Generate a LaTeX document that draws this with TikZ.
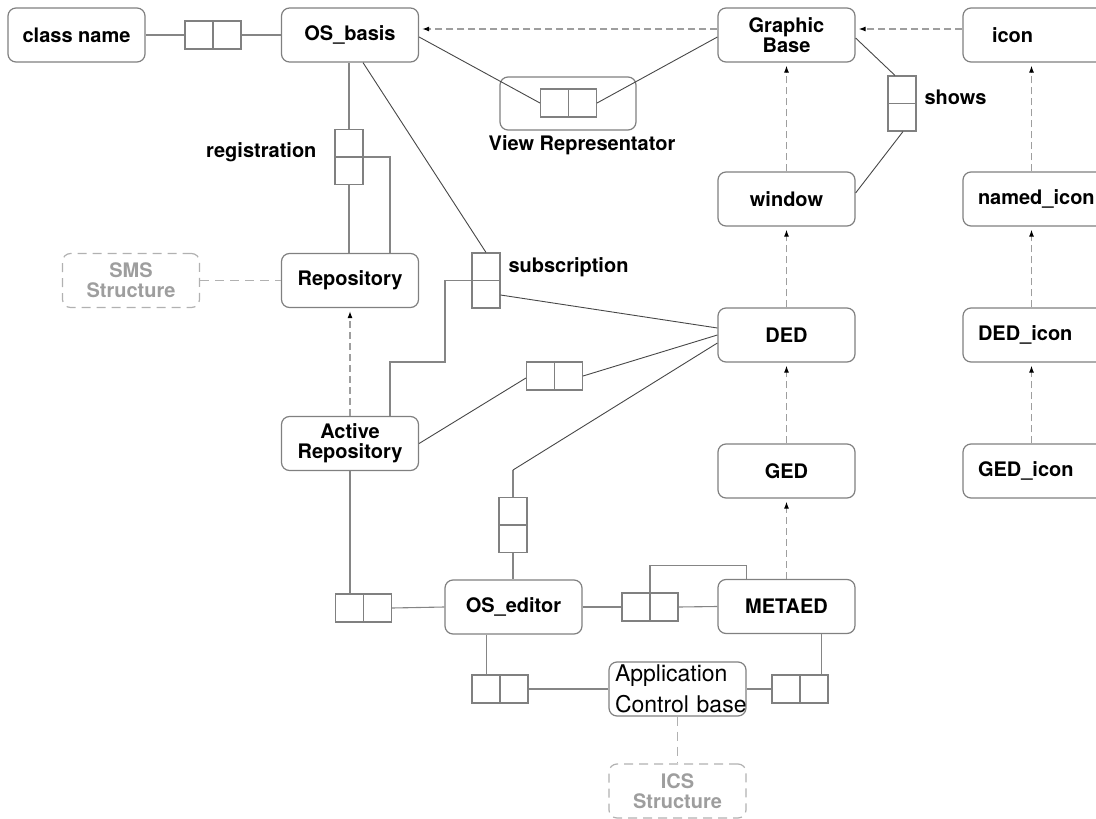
\documentclass[tikz,border=0pt]{standalone}
\usepackage{fontspec}
\setmainfont{TeX Gyre Heros}
\usetikzlibrary{arrows.meta,calc}
\definecolor{boxgray}{gray}{0.5}
\definecolor{linegray}{gray}{0.52}
\definecolor{diaggray}{gray}{0.28}
\definecolor{dashgray}{gray}{0.62}
\definecolor{ghost}{gray}{0.62}
\begin{document}
\begin{tikzpicture}[x=1pt,y=-1pt,
  lbl/.style={font=\bfseries\fontsize{20}{20}\selectfont},
  box/.style={draw=boxgray, line width=1.2pt, rounded corners=8pt,
    minimum width=137pt, minimum height=54pt, inner sep=0pt, align=center,
    font=\bfseries\fontsize{20}{20}\selectfont},
  iconbox/.style={box, align=left, text width=117pt, inner xsep=15pt},
  ghostbox/.style={box, draw=ghost!80, dash pattern=on 9pt off 6pt, text=ghost},
  relh/.style={draw=boxgray, line width=1.1pt, minimum width=56pt, minimum height=28pt,
    inner sep=0pt, path picture={\draw[boxgray, line width=1.1pt]
      (path picture bounding box.north) -- (path picture bounding box.south);}},
  relv/.style={draw=boxgray, line width=1.1pt, minimum width=28pt, minimum height=55pt,
    inner sep=0pt, path picture={\draw[boxgray, line width=1.1pt]
      (path picture bounding box.west) -- (path picture bounding box.east);}},
  conn/.style={draw=linegray, line width=1.1pt},
  diag/.style={draw=diaggray, line width=0.9pt},
  darr/.style={draw=dashgray, line width=1.2pt, dash pattern=on 7pt off 4pt,
    -{Latex[length=7pt,width=5pt,color=black]}, shorten >=3pt},
  dline/.style={draw=dashgray!80, line width=1.2pt, dash pattern=on 9pt off 6pt}]
\useasboundingbox (0,0) rectangle (1096,819);
\clip (0,0) rectangle (1096,819);

% classes
\node[box] (classname) at (76.5,35) {class name};
\node[box] (OSbasis) at (350,35) {OS\_basis};
\node[box] (GraphicBase) at (786.5,35) {Graphic\\Base};
\node[iconbox] (icon) at (1036.5,35) {\hspace*{14pt}icon};
\node[box] (window) at (786.5,199) {window};
\node[iconbox] (namedicon) at (1036.5,199) {named\_icon};
\node[box] (Repository) at (350,280.5) {Repository};
\node[ghostbox] (SMS) at (131,280.5) {SMS\\Structure};
\node[box] (DED) at (786.5,335) {DED};
\node[iconbox] (DEDicon) at (1036.5,335) {DED\_icon};
\node[box] (ActiveRep) at (350,443.5) {Active\\Repository};
\node[box] (GED) at (786.5,471) {GED};
\node[iconbox] (GEDicon) at (1036.5,471) {GED\_icon};
\node[box] (OSeditor) at (513.5,607) {OS\_editor};
\node[box] (METAED) at (786.5,606.5) {METAED};
\node[box, font=\fontsize{23}{31}\selectfont, align=left, text width=125pt,
  inner xsep=6pt] (AppCtrl) at (677.5,689) {\mbox{Application}\\\mbox{Control base}};
\node[ghostbox] (ICS) at (677.5,791) {ICS\\Structure};

% View Representator frame
\node[draw=boxgray, line width=1.2pt, rounded corners=8pt, minimum width=136pt,
  minimum height=53pt] (VRframe) at (568,103.5) {};
\node[lbl] (VRlabel) at (582,145) {View Representator};

% relationship boxes
\node[relh] (A) at (213,35) {};
\node[relh] (VRin) at (568.5,103) {};
\node[relv] (reg) at (349,157) {};
\node[relv] (shows) at (902,103.5) {};
\node[relv] (sub) at (486,280.5) {};
\node[relh] (B) at (554.5,376) {};
\node[relv] (C) at (513,525) {};
\node[relh] (D) at (363.5,608) {};
\node[relh] (E) at (650,607) {};
\node[relh] (F) at (500,689) {};
\node[relh] (G) at (800,689) {};

% relationship labels
\node[lbl, anchor=east] (reglabel) at (320,152) {registration};
\node[lbl, anchor=west] (sublabel) at (505,267) {subscription};
\node[lbl, anchor=west] (showslabel) at (921,97) {shows};

% bend points
\coordinate (subbend) at (445,362);
\coordinate (cbend) at (513,470);

% straight connectors
\draw[conn] (classname.east) -- (A.west);
\draw[conn] (A.east) -- (OSbasis.west);
\draw[conn] (reg.north |- OSbasis.south) -- (reg.north);
\draw[conn] (reg.south) -- (reg.south |- Repository.north);
\draw[conn] (reg.east) -| ([xshift=40pt]Repository.north);
\draw[conn] (sub.west) -| (subbend) -| ([xshift=40pt]ActiveRep.north);
\draw[conn] (C.south) -- (C.south |- OSeditor.north);
\draw[conn] (cbend) -- (C.north);
\draw[conn] (ActiveRep.south) -- (ActiveRep.south |- D.north);
\draw[conn] (D.east) -- (OSeditor.west);
\draw[conn] (OSeditor.east) -- (E.west);
\draw[conn] (E.east) -- (METAED.west);
\draw[conn] (E.north) |- ([xshift=-40pt,yshift=13pt]METAED.north) -- ([xshift=-40pt]METAED.north);
\draw[conn] ([xshift=-27pt]OSeditor.south) -- ([xshift=-27pt]OSeditor.south |- F.north);
\draw[conn] (F.east) -- (AppCtrl.west);
\draw[conn] ([xshift=35pt]METAED.south) -- ([xshift=35pt]METAED.south |- G.north);
\draw[conn] (G.west) -- (AppCtrl.east);

% slanted connectors
\draw[diag] ([xshift=13pt]OSbasis.south) -- (sub.north);
\draw[diag] ([yshift=-14.5pt]sub.east) -- ([yshift=7pt]DED.west);
\draw[diag] (ActiveRep.east) -- ([yshift=-2pt]B.west);
\draw[diag] (B.east) -- (DED.west);
\draw[diag] ([yshift=-8pt]DED.west) -- (cbend);
\draw[diag] ([yshift=-2pt]OSbasis.east) -- (VRin.west);
\draw[diag] (VRin.east) -- ([yshift=-2pt]GraphicBase.west);
\draw[diag] ([yshift=-3pt]GraphicBase.east) -- ([xshift=-7pt]shows.north);
\draw[diag] ([xshift=1pt]shows.south) -- ([yshift=6pt]window.east);

% inheritance arrows
\draw[darr] ([yshift=6pt]GraphicBase.west) -- ([yshift=6pt]OSbasis.east);
\draw[darr] ([yshift=6pt]icon.west) -- ([yshift=6pt]GraphicBase.east);
\draw[darr] (window.north) -- (GraphicBase.south);
\draw[darr] (DED.north) -- (window.south);
\draw[darr] (GED.north) -- (DED.south);
\draw[darr] (METAED.north) -- (GED.south);
\draw[darr] ([xshift=-5pt]namedicon.north) -- ([xshift=-5pt]icon.south);
\draw[darr] ([xshift=-5pt]DEDicon.north) -- ([xshift=-5pt]namedicon.south);
\draw[darr] ([xshift=-5pt]GEDicon.north) -- ([xshift=-5pt]DEDicon.south);
\draw[darr] (ActiveRep.north) -- (Repository.south);

% links to external structures
\draw[dline] (SMS.east) -- (Repository.west);
\draw[dline] (AppCtrl.south) -- (ICS.north);
\end{tikzpicture}
\end{document}
